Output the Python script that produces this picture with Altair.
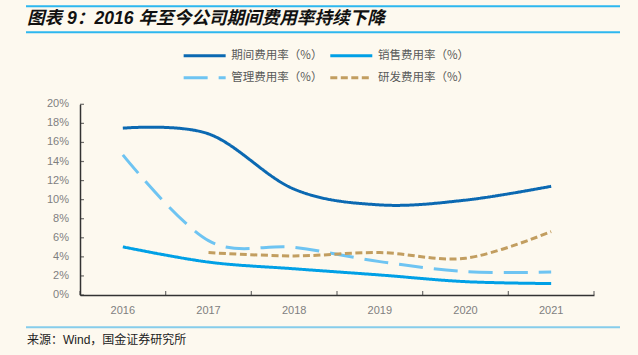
import altair as alt
import pandas as pd

years = ["2016", "2017", "2018", "2019", "2020", "2021"]
series_names = ["期间费用率（%）", "销售费用率（%）", "管理费用率（%）", "研发费用率（%）"]
period_rate = [17.5, 16.9, 11.1, 9.45, 9.95, 11.4]
sales_rate = [5.05, 3.45, 2.75, 2.1, 1.4, 1.2]
admin_rate = [14.7, 5.7, 5.0, 3.5, 2.45, 2.4]
rd_rate = [None, 4.45, 4.1, 4.45, 3.85, 6.65]
y_ticks = [0, 2, 4, 6, 8, 10, 12, 14, 16, 18, 20]
y_labels = ["0%", "2%", "4%", "6%", "8%", "10%", "12%", "14%", "16%", "18%", "20%"]

title_text = "图表 9：2016 年至今公司期间费用率持续下降"
source_text = "来源：Wind，国金证券研究所"

colors = ["#0B69B2", "#00A0E6", "#6EC4F2", "#C29E60"]
dashes = [[1, 0], [1, 0], [24, 11], [7, 3.5]]

rows = []
for name, vals in zip(series_names, [period_rate, sales_rate, admin_rate, rd_rate]):
    for y, v in zip(years, vals):
        if v is not None:
            rows.append({"year": y, "value": v, "series": name})
df = pd.DataFrame(rows)

W, H = 514, 190.7
xscale = alt.Scale(type="band", domain=years, paddingInner=0, paddingOuter=0)
yscale = alt.Scale(domain=[0, 20], nice=False)

x_axis = alt.Axis(title=None, ticks=False, labelAngle=0, labelPadding=9,
                  labelFont="Liberation Sans", labelFontSize=11, labelColor="#7F7F7F",
                  domainColor="#333333", domainWidth=1.5)
y_axis = alt.Axis(title=None, values=y_ticks, ticks=False, grid=False, labels=False,
                  domainColor="#333333", domainWidth=1.5)

legend = alt.Legend(
    title=None, orient="none", legendX=114.65, legendY=-58.65, columns=2, direction="horizontal",
    symbolType="M-2.515,0H2.515", symbolSize=279, symbolStrokeWidth=3,
    labelFont="Noto Sans CJK SC", labelFontSize=11.5, labelColor="#595959",
    labelOffset=16.65, columnPadding=0.65, rowPadding=6,
)

lines = alt.Chart(df).mark_line(interpolate="cardinal", strokeWidth=3).encode(
    x=alt.X("year:O", scale=xscale, bandPosition=0.5, axis=x_axis),
    y=alt.Y("value:Q", scale=yscale, axis=y_axis),
    color=alt.Color("series:N", scale=alt.Scale(domain=series_names, range=colors), legend=legend),
    strokeDash=alt.StrokeDash("series:N", scale=alt.Scale(domain=series_names, range=dashes), legend=legend),
    order=alt.Order("year:O"),
)

ytick_df = pd.DataFrame({"value": y_ticks, "label": y_labels})
yticks = alt.Chart(ytick_df).mark_tick(orient="horizontal", size=4, thickness=1.2, color="#333333").encode(
    y=alt.Y("value:Q", scale=yscale, axis=y_axis), x=alt.value(2)
)
ylabels = alt.Chart(ytick_df).mark_text(
    align="right", baseline="middle", font="Liberation Sans", fontSize=11, color="#7F7F7F").encode(
    y=alt.Y("value:Q", scale=yscale, axis=y_axis), x=alt.value(-11), text="label:N"
)

xtick_df = pd.DataFrame({"year": years})
xticks = alt.Chart(xtick_df).mark_tick(orient="vertical", size=4, thickness=1.2, color="#333333", yOffset=-2).encode(
    x=alt.X("year:O", scale=xscale, bandPosition=0, axis=x_axis), y=alt.datum(0)
)
xtick_end = alt.Chart(pd.DataFrame({"year": [years[-1]]})).mark_tick(
    orient="vertical", size=4, thickness=1.2, color="#333333", yOffset=-2).encode(
    x=alt.X("year:O", scale=xscale, bandPosition=1, axis=x_axis), y=alt.datum(0)
)

deco_df = pd.DataFrame({"k": [0]})
top_line1 = alt.Chart(deco_df).mark_rule(color="#2DB7EF", strokeWidth=2).encode(
    x=alt.value(-54), x2=alt.value(540), y=alt.value(-98))
top_line2 = alt.Chart(deco_df).mark_rule(color="#2DB7EF", strokeWidth=2).encode(
    x=alt.value(-54), x2=alt.value(540), y=alt.value(-72))
src_line = alt.Chart(deco_df).mark_rule(color="#86CDEB", strokeWidth=2).encode(
    x=alt.value(-54), x2=alt.value(540), y=alt.value(223))

title = alt.Chart(pd.DataFrame({"t": [title_text]})).mark_text(
    align="left", baseline="alphabetic", font="Liberation Sans, Noto Sans CJK SC",
    fontSize=17.6, fontWeight="bold", fontStyle="italic", color="#111111").encode(
    text="t:N", x=alt.value(-53), y=alt.value(-80))

source = alt.Chart(pd.DataFrame({"t": [source_text]})).mark_text(
    align="left", baseline="middle", font="Liberation Sans, Noto Sans CJK SC",
    fontSize=12, color="#222222").encode(
    text="t:N", x=alt.value(-53), y=alt.value(235.5))

chart = alt.layer(lines, yticks, ylabels, xticks, xtick_end, top_line1, top_line2, src_line, title, source).properties(
    width=W, height=H,
    autosize=alt.AutoSizeParams(type="none"),
    padding={"left": 80, "top": 104.3, "right": 44, "bottom": 60},
    background="#FDF9EF",
).configure_view(stroke=None)

chart.save("out.html", embed_options={"renderer": "svg", "actions": False})
